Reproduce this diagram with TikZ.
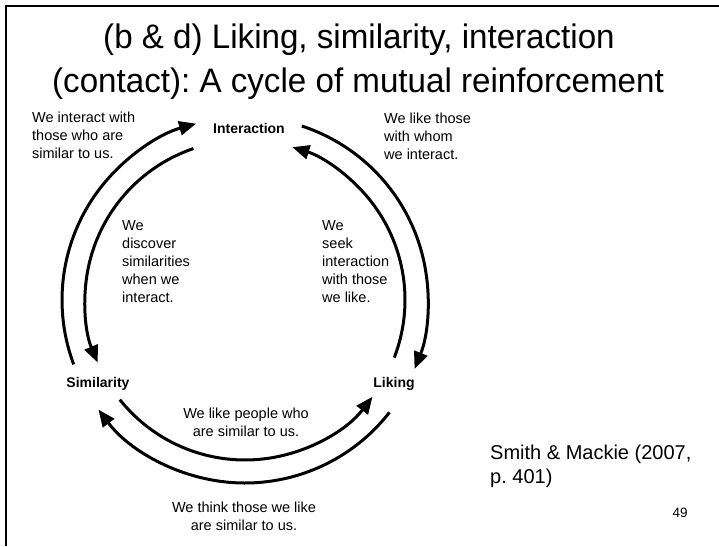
\documentclass[tikz,border=0pt]{standalone}
\usepackage{fontspec}
\setmainfont{Liberation Sans}
\newfontfamily\titlefont[FakeStretch=0.975]{Liberation Sans}
\usetikzlibrary{arrows.meta}
\frenchspacing
\begin{document}
\begin{tikzpicture}[x=1pt,y=-1pt,
  cyc/.style={line width=3pt, -{Triangle[length=17pt,width=14pt]}},
  lab/.style={font=\fontsize{14.5}{18}\selectfont, inner sep=0pt, align=left},
  labc/.style={font=\fontsize{14.5}{18}\selectfont, inner sep=0pt, align=center},
  key/.style={font=\fontsize{14}{17}\selectfont\bfseries, inner sep=0pt},
  ttl/.style={font=\titlefont\fontsize{34}{44}\selectfont, inner sep=0pt},
  frame/.style={line width=2.5pt}
]
\useasboundingbox (0,0) rectangle (719,546);
% frame
\coordinate (f1) at (719,6);
\coordinate (f2) at (6,6);
\coordinate (f3) at (6,546);
\draw[frame] (f1) -- (f2) -- (f3);
% title
\node[ttl, anchor=base] (t1) at (359,48) {(b \& d) Liking, similarity, interaction};
\node[ttl, anchor=base] (t2) at (358,92) {(contact): A cycle of mutual reinforcement};
% key nodes
\node[key, anchor=base] (inter) at (249,133) {Interaction};
\node[key, anchor=base] (simil) at (98,387) {Similarity};
\node[key, anchor=base] (liking) at (394,387) {Liking};
% centre of the cycle
\coordinate (c) at (245,300);
\path (c) ++(-200.6:183) coordinate (ol);
\path (c) ++(-108.8:160) coordinate (il);
\path (c) ++(-71.9:183) coordinate (or);
\path (c) ++(21.1:160) coordinate (ir);
\path (c) ++(-218.5:160) coordinate (ib);
\path (c) ++(-322.1:183) coordinate (ob);
% arcs
\draw[cyc] (ol) arc[start angle=-200.6, end angle=-105.5, radius=183];
\draw[cyc] (il) arc[start angle=-108.8, end angle=-203, radius=160];
\draw[cyc] (or) arc[start angle=-71.9, end angle=22.1, radius=183];
\draw[cyc] (ir) arc[start angle=21.1, end angle=-72.8, radius=160];
\draw[cyc] (ib) arc[start angle=-218.5, end angle=-322.8, radius=160];
\draw[cyc] (ob) arc[start angle=-322.1, end angle=-216.8, radius=183];
% labels
\node[lab, anchor=north west] (l1) at (32,112) {We interact with\\those who are\\similar to us.};
\node[lab, anchor=north west] (l2) at (384,113) {We like those\\with whom\\we interact.};
\node[lab, anchor=north west] (l3) at (122,220) {We\\discover\\similarities\\when we\\interact.};
\node[lab, anchor=north west] (l4) at (322,220) {We\\seek\\interaction\\with those\\we like.};
\node[labc, anchor=north] (l5) at (246,408) {We like people who\\are similar to us.};
\node[labc, anchor=north] (l6) at (244,502) {We think those we like\\are similar to us.};
% source and page number
\node[font=\fontsize{20}{24}\selectfont, inner sep=0pt, align=left, anchor=north west] (src) at (490,445) {Smith \& Mackie (2007,\\p. 401)};
\node[font=\fontsize{13.5}{16}\selectfont, inner sep=0pt] (pg) at (680,513) {49};
\end{tikzpicture}
\end{document}
